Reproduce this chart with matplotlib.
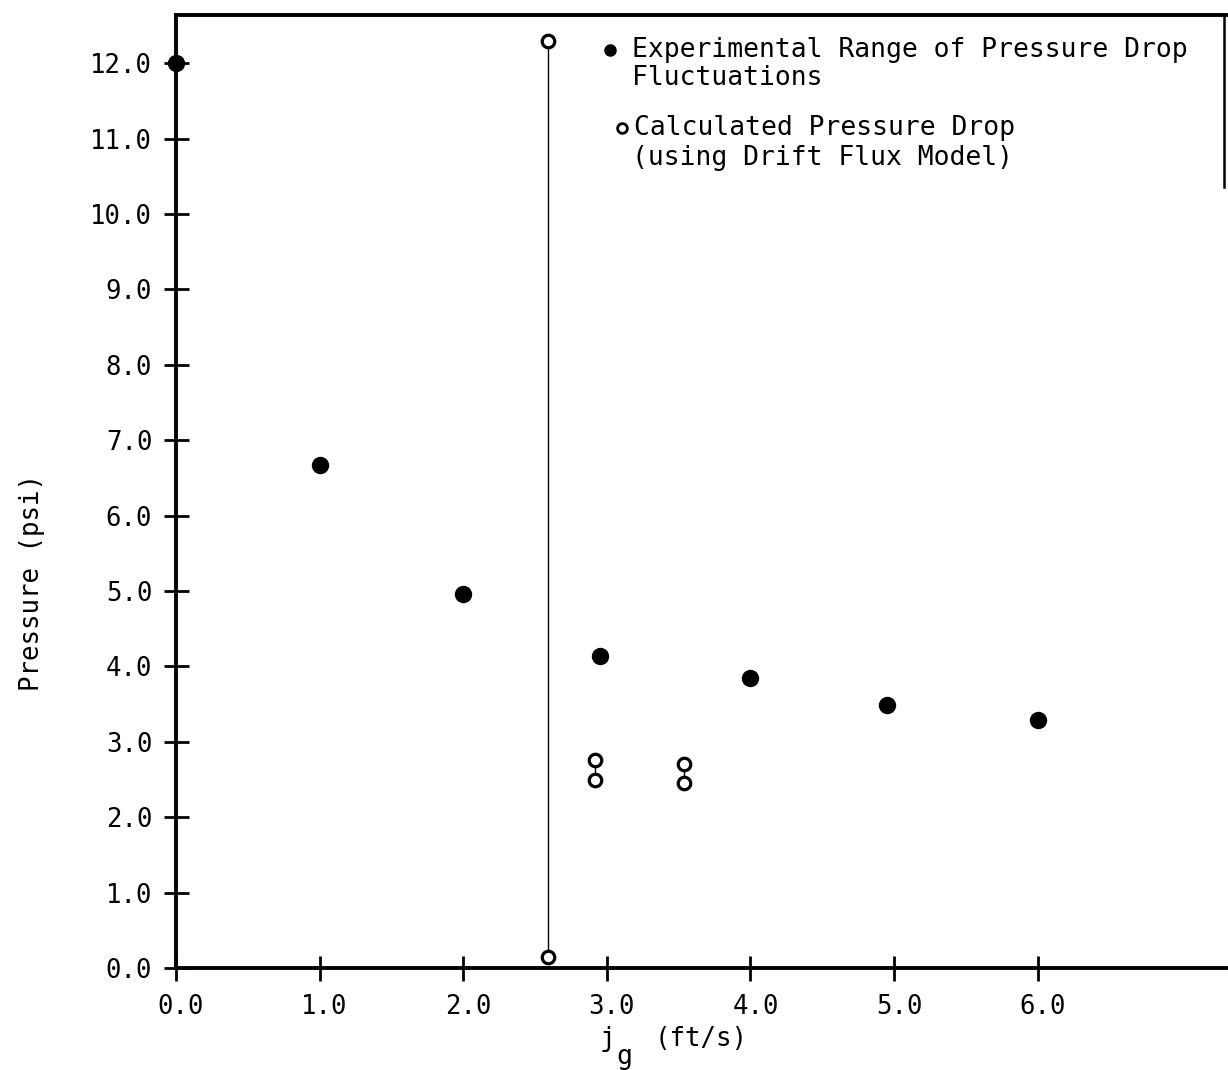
import matplotlib
matplotlib.use("Agg")
import matplotlib.pyplot as plt
from matplotlib.lines import Line2D
from matplotlib.transforms import ScaledTranslation

# ---- data ----
exp_x = [0.0, 1.0, 2.0, 2.95, 4.0, 4.95, 6.0]
exp_y = [12.0, 6.67, 4.96, 4.14, 3.85, 3.49, 3.29]

calc_x = [2.59, 2.92, 3.54]
calc_lo = [0.15, 2.49, 2.45]
calc_hi = [12.3, 2.76, 2.70]

xticks = [0, 1, 2, 3, 4, 5, 6]
yticks = list(range(0, 13))

FONT = "DejaVu Sans Mono"
plt.rcParams['font.family'] = [FONT]

fig = plt.figure(figsize=(12.28, 10.70), dpi=100)
ax = fig.add_axes([0.1433, 0.0953, 0.855, 0.8907])

ax.set_xlim(0, 7.31)
ax.set_ylim(0, 12.64)

# calculated ranges
for x, lo, hi in zip(calc_x, calc_lo, calc_hi):
    ax.plot([x, x], [lo, hi], color='black', lw=1.0, zorder=2)
ax.plot(calc_x + calc_x, calc_lo + calc_hi, linestyle='none', marker='o',
        markersize=9, markerfacecolor='white', markeredgecolor='black',
        markeredgewidth=2.3, zorder=3, clip_on=False)

# experimental
ax.plot(exp_x, exp_y, linestyle='none', marker='o', markersize=11.5,
        color='black', zorder=4, clip_on=False)

# spines
for s in ['left', 'bottom', 'top']:
    ax.spines[s].set_linewidth(2.8)
ax.spines['right'].set_visible(False)
ax.add_line(Line2D([0.9985, 0.9985], [1.0, 0.82], transform=ax.transAxes,
                   color='black', lw=1.8, clip_on=False))

ax.set_xticks(xticks)
ax.set_xticklabels([f"{v:.1f}" for v in xticks])
ax.set_yticks(yticks)
ax.set_yticklabels([f"{v:.1f}" for v in yticks])
ax.tick_params(direction='inout', length=18, width=2.0, labelsize=18.5)
ax.tick_params(axis='x', pad=10)
ax.tick_params(axis='y', pad=8)
shift = ScaledTranslation(5 / 100, 0, fig.dpi_scale_trans)
for lab in ax.get_xticklabels():
    lab.set_transform(lab.get_transform() + shift)

ax.set_ylabel("Pressure (psi)", fontsize=18.5)
ax.yaxis.set_label_coords(-0.125, 0.404)

tr = ax.transAxes
# x-axis label: j with subscript g, then units
ax.text(0.4114, -0.0818, "j", transform=tr, fontsize=19, ha='center',
        va='baseline')
ax.text(0.4267, -0.1007, "g", transform=tr, fontsize=19, ha='center',
        va='baseline')
ax.text(0.456, -0.0818, "(ft/s)", transform=tr, fontsize=18.5, ha='left',
        va='baseline')

# legend (custom layout)
ax.plot([0.413], [0.963], transform=tr, marker='o', markersize=8,
        color='black', clip_on=False)
ax.text(0.434, 0.963, "Experimental Range of Pressure Drop", transform=tr,
        fontsize=19, va='center', ha='left')
ax.text(0.434, 0.934, "Fluctuations", transform=tr,
        fontsize=19, va='center', ha='left')
ax.plot([0.4245], [0.8814], transform=tr, marker='o', markersize=7,
        markerfacecolor='white', markeredgecolor='black',
        markeredgewidth=2.0, clip_on=False)
ax.text(0.436, 0.8814, "Calculated Pressure Drop", transform=tr,
        fontsize=19, va='center', ha='left')
ax.text(0.434, 0.850, "(using Drift Flux Model)", transform=tr,
        fontsize=19, va='center', ha='left')

fig.savefig("out.png", dpi=100)
